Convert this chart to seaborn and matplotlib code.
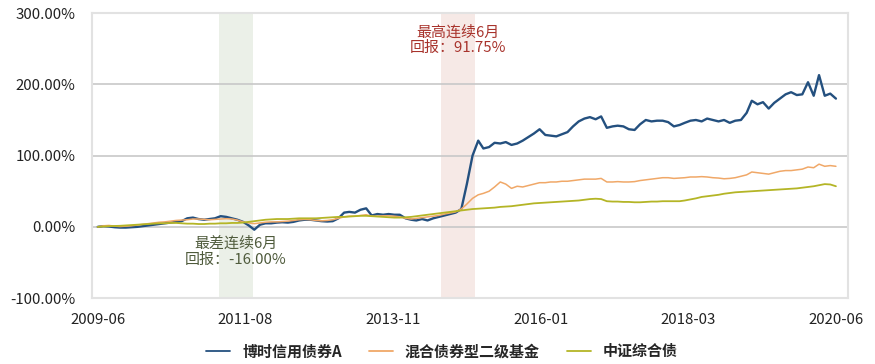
import pandas as pd
import numpy as np

import matplotlib
matplotlib.use("Agg")
import matplotlib.pyplot as plt
import matplotlib.ticker as mticker
import seaborn as sns

sns.set_style("white")
plt.rcParams["font.family"] = ["Noto Sans CJK SC", "DejaVu Sans"]
plt.rcParams["axes.unicode_minus"] = False

# ======================================================
# Data (monthly cumulative return, %)
# ======================================================

start_month = "2009-06-01"

fund_a = [
    0, 1, 0.5, -0.5, -1, -1, -0.5, 0, 1, 2, 3, 4,
    5, 6, 7, 8, 12, 13, 11, 10, 11, 12, 15, 14,
    12, 10, 7, 2, -4, 3, 5, 5, 6, 6.5, 6, 7,
    9, 10, 10, 9, 8, 7.5, 8, 12, 20, 21, 20, 24,
    26, 16, 18, 17, 18, 17, 17, 12, 10, 9, 11, 9,
    12, 14, 16, 18, 20, 25, 60, 100, 121, 110, 112, 118,
    117, 119, 115, 117, 121, 126, 131, 137, 129, 128, 127, 130,
    133, 141, 148, 152, 154, 151, 155, 139, 141, 142, 141, 137,
    136, 144, 150, 148, 149, 149, 147, 141, 143, 146, 149, 150,
    148, 152, 150, 148, 150, 146, 149, 150, 160, 177, 172, 175,
    166, 174, 180, 186, 189, 185, 186, 203, 184, 213, 184, 187,
    180,
]

mixed_bond = [
    0, 1.5, 2, 1, 0.5, 1, 1.5, 2.5, 3.5, 4.5, 5.5, 6.5,
    7, 8, 9, 9.5, 10, 11, 11, 10.5, 10, 10.5, 11, 11.5,
    11, 9.5, 7, 5.5, 4.5, 5.5, 6.5, 7, 7, 7.5, 8, 9,
    10, 10.5, 10, 9, 8.5, 9, 10, 12, 14, 15, 15, 16,
    17, 15, 15, 15.5, 15.5, 15, 14, 12, 11, 12, 13, 14,
    15, 16, 18, 19.5, 21, 25, 32, 40, 45, 47, 50, 56,
    63, 60, 54, 57, 56, 58, 60, 62, 62, 63, 63, 64,
    64, 65, 66, 67, 67, 67, 68, 63, 63, 63.5, 63, 63,
    63.5, 65, 66, 67, 68, 69, 69, 68, 68.5, 69, 70, 70,
    70.5, 70, 69, 68.5, 67.5, 68, 69, 71, 73, 77, 76, 75,
    74, 76, 78, 79, 79, 80, 81, 84, 83, 88, 85, 86,
    85,
]

csi_bond = [
    0, 0.5, 1, 1.2, 1.5, 2, 2.5, 3, 3.5, 4, 4.5, 5,
    5, 5.5, 5.5, 5, 4.5, 4.5, 4, 4, 4.5, 4.5, 5, 5,
    5.5, 5.5, 6, 7, 8, 9, 10, 10.5, 11, 11, 11, 11.5,
    12, 12, 12, 12, 12.5, 13, 13.5, 14, 14, 14.5, 15, 15.5,
    15.5, 15, 14.5, 14, 13.5, 13, 13, 13.5, 14, 15, 16, 17,
    18, 19, 20, 21, 22, 23, 24, 25, 25.5, 26, 26.5, 27,
    28, 28.5, 29, 30, 31, 32, 33, 33.5, 34, 34.5, 35, 35.5,
    36, 36.5, 37, 38, 39, 39.5, 39, 36, 35.5, 35.5, 35, 35,
    34.5, 34.5, 35, 35.5, 35.5, 36, 36, 36, 36, 37, 38.5, 40,
    42, 43, 44, 45, 46.5, 47.5, 48.5, 49, 49.5, 50, 50.5, 51,
    51.5, 52, 52.5, 53, 53.5, 54, 55, 56, 57, 58.5, 60, 59.5,
    57,
]

series_names = ["博时信用债券A", "混合债券型二级基金", "中证综合债"]
series_colors = ["#24507f", "#f0a868", "#b4b526"]
series_widths = [1.7, 1.1, 1.3]

tick_labels = ["2009-06", "2011-08", "2013-11", "2016-01", "2018-03", "2020-06"]

worst_period = ("2011-03-25", "2011-09-22")
best_period = ("2014-07-12", "2015-01-12")
worst_text = "最差连续6月\n回报：-16.00%"
best_text = "最高连续6月\n回报：91.75%"

# ======================================================
# Build long table
# ======================================================

dates = pd.date_range(start_month, periods=len(fund_a), freq="MS")

df = pd.concat([
    pd.DataFrame({"date": dates, "value": vals, "series": name})
    for name, vals in zip(series_names, [fund_a, mixed_bond, csi_bond])
])

# ======================================================
# Plot
# ======================================================

fig = plt.figure(figsize=(8.75, 3.64), dpi=100)
ax = fig.add_axes([0.105, 0.181, 0.864, 0.783])

ax.axvspan(pd.Timestamp(worst_period[0]), pd.Timestamp(worst_period[1]),
           color="#ebf0e8", zorder=0, lw=0)
ax.axvspan(pd.Timestamp(best_period[0]), pd.Timestamp(best_period[1]),
           color="#f6e9e6", zorder=0, lw=0)

for y in [0, 100, 200]:
    ax.axhline(y, color="#c8c8c8", lw=1.2, zorder=1)

sns.lineplot(
    data=df,
    x="date",
    y="value",
    hue="series",
    hue_order=series_names,
    palette=series_colors,
    ax=ax,
    legend=False,
    zorder=3,
)
for line, w in zip(ax.get_lines()[-3:], series_widths):
    line.set_linewidth(w)

ax.set_ylim(-100, 300)
ax.set_yticks([-100, 0, 100, 200, 300])
ax.yaxis.set_major_formatter(mticker.FuncFormatter(lambda v, p: f"{v:.2f}%"))

x0 = matplotlib.dates.date2num(dates[0])
x1 = matplotlib.dates.date2num(dates[-1])
ax.set_xlim(x0 - 32, x1 + 65)
ax.set_xticks(np.linspace(x0, x1, len(tick_labels)))
ax.set_xticklabels(tick_labels)

ax.set_xlabel("")
ax.set_ylabel("")
ax.tick_params(axis="both", labelsize=10.8, colors="#222222")
ax.tick_params(axis="x", length=4, color="#c9d6ea", width=1, pad=7)
ax.tick_params(axis="y", length=0, pad=12)

for side in ["left", "right", "top", "bottom"]:
    ax.spines[side].set_color("#e2e2e2")
    ax.spines[side].set_linewidth(1.5)

# annotations
mid_best = pd.Timestamp(best_period[0]) + (pd.Timestamp(best_period[1]) - pd.Timestamp(best_period[0])) / 2
mid_worst = pd.Timestamp(worst_period[0]) + (pd.Timestamp(worst_period[1]) - pd.Timestamp(worst_period[0])) / 2

ax.text(mid_best, 262, best_text, ha="center", va="center",
        fontsize=10.8, color="#a8332c", linespacing=1.15, zorder=4)
ax.text(mid_worst, -35, worst_text, ha="center", va="center",
        fontsize=10.8, color="#4f5b3c", linespacing=1.15, zorder=4)

# legend
handles = [plt.Line2D([0], [0], color=c, lw=1.3) for c in series_colors]
fig.legend(
    handles,
    series_names,
    loc="center",
    bbox_to_anchor=(0.505, 0.035),
    ncol=3,
    frameon=False,
    handlelength=1.6,
    columnspacing=1.8,
    prop={"size": 10.8, "weight": "bold"},
)

plt.savefig("out.png", dpi=100)
